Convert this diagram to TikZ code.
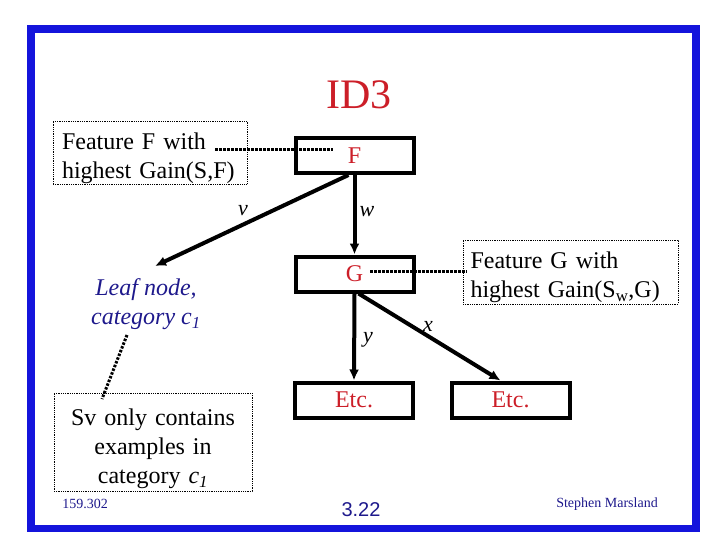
\documentclass[tikz,border=0pt]{standalone}
\usepackage{fontspec}
\setmainfont{Liberation Serif}
\newfontfamily\arialfont{Liberation Sans}
\usetikzlibrary{arrows.meta}
\definecolor{frameblue}{RGB}{20,20,220}
\definecolor{slred}{RGB}{204,30,40}
\definecolor{navy}{RGB}{30,25,140}
\begin{document}
\begin{tikzpicture}[x=1pt,y=-1pt,
  treebox/.style={draw, line width=4pt, minimum width=118pt, minimum height=35pt,
    inner sep=0pt, text=slred, font=\fontsize{24}{28}\selectfont},
  callout/.style={draw, line width=0.8pt, dash pattern=on 0.8pt off 1pt,
    inner sep=0pt, font=\fontsize{24}{29}\selectfont},
  calline/.style={line width=3pt, dash pattern=on 2.5pt off 1.5pt},
  branch/.style={line width=4pt, -{Latex[length=11pt,width=10pt]}},
  edgelabel/.style={font=\fontsize{22}{26}\selectfont\itshape, inner sep=0pt},
  footer/.style={text=navy, inner sep=0pt}]
\useasboundingbox (0,0) rectangle (720,540);
\draw[frameblue, line width=7.5pt] (31,29) rectangle (696,528.5);

\node[text=slred, font=\fontsize{42}{48}\selectfont, inner sep=0pt] (title) at (359,95) {ID3};

\node[treebox] (F) at (354.5,155.5) {F};
\node[treebox] (G) at (354.5,274) {G};
\node[treebox] (E1) at (354,400) {Etc.};
\node[treebox] (E2) at (510.5,400) {Etc.};

\node[callout, minimum width=194pt, minimum height=63pt, text width=176pt, align=left]
  (cf) at (150,152.5) {\rule{0pt}{28pt}Feature F with\\highest Gain(S,F)};
\node[callout, minimum width=215pt, minimum height=64pt, text width=200pt, align=left]
  (cg) at (570.5,272) {\rule{0pt}{28pt}Feature G with\\highest Gain(S\textsubscript{w},G)};
\node[callout, minimum width=198pt, minimum height=98pt, text width=190pt, align=center]
  (sv) at (153,442) {\rule{0pt}{30pt}Sv only contains\\examples in\\category \textit{c\textsubscript{1}}};

\node[text=navy, font=\fontsize{24}{29}\selectfont\itshape, align=center, inner sep=0pt]
  (leaf) at (146,304) {Leaf node,\\category c\textsubscript{1}};

\coordinate (fa) at (215,150);
\coordinate (fb) at (333,150);
\coordinate (ga) at (370,271);
\coordinate (gb) at (467,271);
\coordinate (la) at (127,335);
\coordinate (lb) at (102,399);
\coordinate (leaftip) at (155,266);

\draw[calline] (fa) -- (fb);
\draw[calline] (ga) -- (gb);
\draw[calline] (la) -- (lb);

\draw[branch] ([xshift=-6pt]F.south) -- (leaftip);
\draw[branch] (F.south) -- (G.north);
\draw[branch] (G.south) -- (E1.north);
\draw[branch] ([xshift=4pt]G.south) -- ([xshift=-10pt]E2.north);

\node[edgelabel] (lv) at (243,211) {v};
\node[edgelabel] (lw) at (367,212) {w};
\node[edgelabel] (ly) at (368,340) {y};
\node[edgelabel] (lx) at (428,326) {x};

\node[footer, font=\fontsize{14}{16}\selectfont] (num) at (85,504) {159.302};
\node[footer, font=\arialfont\fontsize{20}{24}\selectfont] (page) at (361,510) {3.22};
\node[footer, font=\fontsize{14}{16}\selectfont] (auth) at (607,504) {Stephen Marsland};
\end{tikzpicture}
\end{document}
